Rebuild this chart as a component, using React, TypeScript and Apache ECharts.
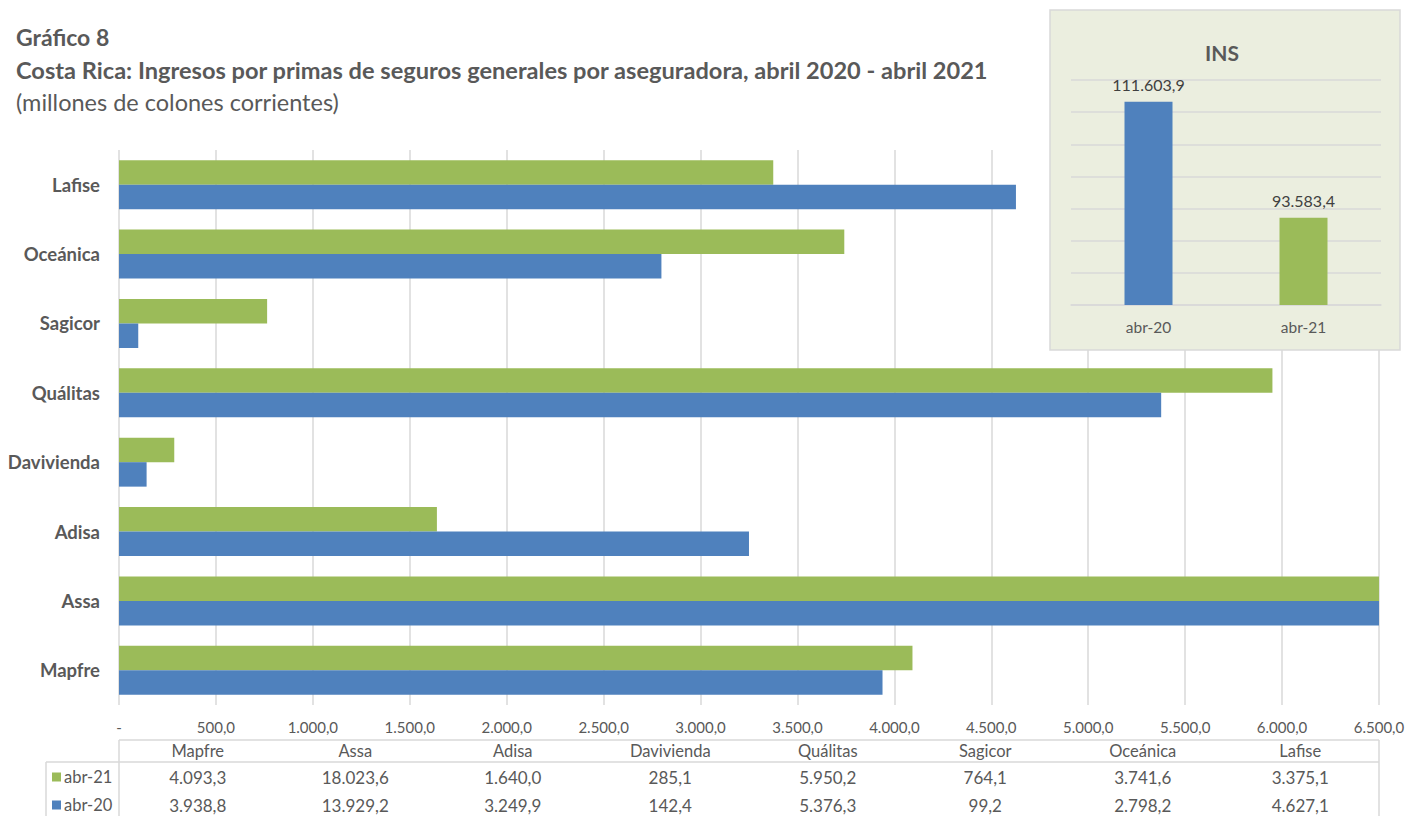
import React, { useEffect, useRef } from 'react';
import * as echarts from 'echarts';

// ---- data ----
const categories = ['Mapfre', 'Assa', 'Adisa', 'Davivienda', 'Quálitas', 'Sagicor', 'Oceánica', 'Lafise'];
const abr20 = [3938.8, 13929.2, 3249.9, 142.4, 5376.3, 99.2, 2798.2, 4627.1];
const abr21 = [4093.3, 18023.6, 1640.0, 285.1, 5950.2, 764.1, 3741.6, 3375.1];
const seriesNames = ['abr-20', 'abr-21'];
const xMin = 0;
const xMax = 6500;
const xInterval = 500;

const insCategories = ['abr-20', 'abr-21'];
const insValues = [111603.9, 93583.4];
const insMin = 80000;
const insMax = 115000;
const insInterval = 5000;

const titleLines = [
  'Gráfico 8',
  'Costa Rica: Ingresos por primas de seguros generales por aseguradora, abril 2020 - abril 2021',
  '(millones de colones corrientes)',
];
const insTitle = 'INS';

// ---- style ----
const FONT = 'Lato, "Noto Sans", sans-serif';
const TXT = '#595959';
const GRIDC = '#D9D9D9';
const BLUE = '#4F81BD';
const GREEN = '#9BBB59';

const G_LEFT = 119;
const G_RIGHT = 1379;
const G_TOP = 150;
const G_BOTTOM = 705;
const W = 1419;
const H = 816;

function fmt(v: number): string {
  const s = Math.abs(v).toFixed(1);
  const [i, d] = s.split('.');
  return (v < 0 ? '-' : '') + i.replace(/\B(?=(\d{3})+(?!\d))/g, '.') + ',' + d;
}

export default function App() {
  const ref = useRef<HTMLDivElement>(null);
  useEffect(() => {
    if (!ref.current) return;
    const chart = echarts.init(ref.current, undefined, { renderer: 'svg' });

    const graphics: any[] = [];
    // titles
    graphics.push({ type: 'text', x: 16, y: 37, style: { text: titleLines[0], font: `bold 23px ${FONT}`, fill: TXT, verticalAlign: 'middle' } });
    graphics.push({ type: 'text', x: 16, y: 70, style: { text: titleLines[1], font: `bold 23.6px ${FONT}`, fill: TXT, verticalAlign: 'middle' } });
    graphics.push({ type: 'text', x: 16, y: 102, style: { text: titleLines[2], font: `23.5px ${FONT}`, fill: TXT, verticalAlign: 'middle' } });

    // inset box
    graphics.push({ type: 'rect', z: 5, shape: { x: 1050, y: 10, width: 350, height: 340 }, style: { fill: '#EBEEDF', stroke: GRIDC, lineWidth: 1.5 } });
    graphics.push({ type: 'text', z: 6, x: 1222, y: 52, style: { text: insTitle, font: `bold 21px ${FONT}`, fill: TXT, align: 'center', verticalAlign: 'middle' } });

    // data table
    const colW = (G_RIGHT - G_LEFT) / categories.length;
    const tTop = 740;
    const hBottom = 762;
    const rowY = [777, 805];
    const lineStyle = { stroke: GRIDC, lineWidth: 1.5 };
    graphics.push({ type: 'line', shape: { x1: G_LEFT, y1: tTop, x2: G_RIGHT, y2: tTop }, style: lineStyle });
    graphics.push({ type: 'line', shape: { x1: 46, y1: hBottom, x2: G_RIGHT, y2: hBottom }, style: lineStyle });
    graphics.push({ type: 'line', shape: { x1: G_LEFT, y1: tTop, x2: G_LEFT, y2: H }, style: lineStyle });
    graphics.push({ type: 'line', shape: { x1: 46, y1: hBottom, x2: 46, y2: H }, style: lineStyle });
    graphics.push({ type: 'line', shape: { x1: G_RIGHT, y1: tTop, x2: G_RIGHT, y2: H }, style: lineStyle });
    categories.forEach((c, i) => {
      const cx = G_LEFT + colW * (i + 0.5);
      graphics.push({ type: 'text', x: cx, y: 751, style: { text: c, font: `16.5px ${FONT}`, fill: TXT, align: 'center', verticalAlign: 'middle' } });
      graphics.push({ type: 'text', x: cx, y: rowY[0], style: { text: fmt(abr21[i]), font: `17px ${FONT}`, fill: TXT, align: 'center', verticalAlign: 'middle' } });
      graphics.push({ type: 'text', x: cx, y: rowY[1], style: { text: fmt(abr20[i]), font: `17px ${FONT}`, fill: TXT, align: 'center', verticalAlign: 'middle' } });
    });
    const legendRows = [
      { name: seriesNames[1], color: GREEN },
      { name: seriesNames[0], color: BLUE },
    ];
    legendRows.forEach((r, k) => {
      graphics.push({ type: 'rect', shape: { x: 52, y: rowY[k] - 4.5, width: 9, height: 9 }, style: { fill: r.color } });
      graphics.push({ type: 'text', x: 64, y: rowY[k], style: { text: r.name, font: `16.5px ${FONT}`, fill: TXT, verticalAlign: 'middle' } });
    });

    const option: any = {
      animation: false,
      backgroundColor: '#ffffff',
      textStyle: { fontFamily: FONT },
      grid: [
        { left: G_LEFT, right: W - G_RIGHT, top: G_TOP, bottom: H - G_BOTTOM, containLabel: false },
        { left: 1071, top: 80, width: 310, height: 225, containLabel: false, z: 10 },
      ],
      xAxis: [
        {
          type: 'value', gridIndex: 0, min: xMin, max: xMax, interval: xInterval,
          axisLine: { show: false }, axisTick: { show: false },
          splitLine: { show: true, lineStyle: { color: GRIDC, width: 1.5 } },
          axisLabel: {
            color: TXT, fontSize: 15, fontFamily: FONT, margin: 14,
            formatter: (v: number) => (v === 0 ? '-' : fmt(v)),
          },
        },
        {
          type: 'category', gridIndex: 1, data: insCategories, z: 10,
          axisLine: { show: true, lineStyle: { color: GRIDC, width: 1.5 } },
          axisTick: { show: false },
          axisLabel: { color: TXT, fontSize: 15.5, fontFamily: FONT, margin: 14 },
        },
      ],
      yAxis: [
        {
          type: 'category', gridIndex: 0, data: categories,
          axisLine: { show: false }, axisTick: { show: false },
          axisLabel: { color: TXT, fontSize: 18.5, fontWeight: 'bold', fontFamily: FONT, margin: 19 },
        },
        {
          type: 'value', gridIndex: 1, min: insMin, max: insMax, interval: insInterval, z: 10,
          axisLine: { show: false }, axisTick: { show: false }, axisLabel: { show: false },
          splitLine: { show: true, lineStyle: { color: GRIDC, width: 1.5 } },
        },
      ],
      series: [
        {
          type: 'bar', name: seriesNames[1], data: abr21, xAxisIndex: 0, yAxisIndex: 0,
          itemStyle: { color: GREEN }, barGap: '0%', barCategoryGap: '29.5%',
        },
        {
          type: 'bar', name: seriesNames[0], data: abr20, xAxisIndex: 0, yAxisIndex: 0,
          itemStyle: { color: BLUE }, barGap: '0%', barCategoryGap: '29.5%',
        },
        {
          type: 'bar', name: 'INS', xAxisIndex: 1, yAxisIndex: 1, z: 10, barWidth: 48,
          data: insValues.map((v, i) => ({ value: v, itemStyle: { color: i === 0 ? BLUE : GREEN } })),
          label: {
            show: true, position: 'top', distance: 9, color: '#404040', fontSize: 16, fontFamily: FONT,
            formatter: (p: any) => fmt(p.value),
          },
        },
      ],
      graphic: { elements: graphics },
    };
    chart.setOption(option);
    return () => chart.dispose();
  }, []);
  return <div ref={ref} style={{ position: 'fixed', left: 0, top: 0, width: W, height: H }} />;
}
